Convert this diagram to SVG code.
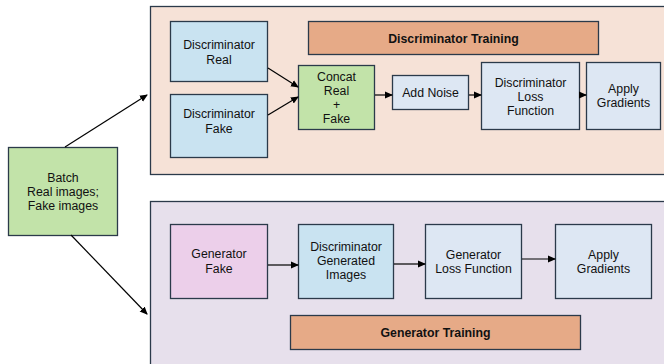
<svg xmlns="http://www.w3.org/2000/svg" width="664" height="364" viewBox="0 0 664 364">
<defs>
<marker id="ah" markerWidth="8" markerHeight="8" refX="7" refY="4" orient="auto" markerUnits="userSpaceOnUse">
<path d="M0,0.5 L8,4 L0,7.5 Z" fill="#000"/>
</marker>
<style>
rect{stroke:#2b3a4a;stroke-width:1.3}
.cont1{fill:#f6e2d7}
.cont2{fill:#e7e0ec}
.blue{fill:#c9e3f1}
.lblue{fill:#dde7f3}
.green{fill:#c2e3a9}
.orange{fill:#e6aa87}
.pink{fill:#eccfea}
text{font-family:"Liberation Sans",Arial,sans-serif;font-size:12.3px;fill:#111;text-anchor:middle}
.b{font-weight:bold;font-size:12.3px}
.c line{stroke:#000;stroke-width:1.2;marker-end:url(#ah)}
</style>
</defs>
<rect width="664" height="364" fill="#fff" style="stroke:none"/>
<g id="disc-training-group"><rect class="cont1" x="150.5" y="6.5" width="530" height="168"/></g>
<g id="gen-training-group"><rect class="cont2" x="150.5" y="201.5" width="530" height="180"/></g>
<g id="disc-training-label"><rect class="orange" x="308.5" y="21.5" width="290" height="33"/><text class="b" x="453.5" y="42.5">Discriminator Training</text></g>
<g id="disc-real"><rect class="blue" x="170.5" y="21.5" width="97" height="60"/><text x="219" y="48.5">Discriminator</text><text x="219" y="63.5">Real</text></g>
<g id="disc-fake"><rect class="blue" x="170.5" y="94.5" width="97" height="63"/><text x="219" y="117.5">Discriminator</text><text x="219" y="132.5">Fake</text></g>
<g id="concat"><rect class="green" x="298.5" y="65.5" width="76" height="64"/><text x="336.5" y="81">Concat</text><text x="336.5" y="95">Real</text><text x="336.5" y="109">+</text><text x="336.5" y="123">Fake</text></g>
<g id="add-noise"><rect class="lblue" x="392.5" y="75.5" width="76" height="34"/><text x="430.5" y="97">Add Noise</text></g>
<g id="disc-loss"><rect class="lblue" x="481.5" y="62.5" width="98" height="67"/><text x="530.5" y="87">Discriminator</text><text x="530.5" y="101">Loss</text><text x="530.5" y="114.5">Function</text></g>
<g id="disc-apply"><rect class="lblue" x="586.5" y="62.5" width="74" height="67"/><text x="623.5" y="93">Apply</text><text x="623.5" y="106.5">Gradients</text></g>
<g id="batch"><rect class="green" x="8.5" y="147.5" width="109" height="88"/><text x="63" y="182">Batch</text><text x="63" y="196">Real images;</text><text x="63" y="210">Fake images</text></g>
<g id="gen-fake"><rect class="pink" x="170.5" y="224.5" width="97" height="74"/><text x="219" y="258">Generator</text><text x="219" y="273">Fake</text></g>
<g id="disc-gen"><rect class="blue" x="298.5" y="224.5" width="95" height="74"/><text x="346" y="251">Discriminator</text><text x="346" y="265">Generated</text><text x="346" y="279">Images</text></g>
<g id="gen-loss"><rect class="lblue" x="425.5" y="224.5" width="96" height="74"/><text x="473.5" y="259">Generator</text><text x="473.5" y="273">Loss Function</text></g>
<g id="gen-apply"><rect class="lblue" x="555.5" y="224.5" width="96" height="74"/><text x="603.5" y="259">Apply</text><text x="603.5" y="273">Gradients</text></g>
<g id="gen-training-label"><rect class="orange" x="290.5" y="315.5" width="290" height="34"/><text class="b" x="435.5" y="336.5">Generator Training</text></g>
<g id="connectors" class="c">
<line x1="65" y1="147" x2="147" y2="95"/>
<line x1="71" y1="235" x2="147" y2="314"/>
<line x1="268" y1="68" x2="298" y2="87"/>
<line x1="268" y1="115" x2="298" y2="97"/>
<line x1="375" y1="95" x2="392" y2="95"/>
<line x1="469" y1="95" x2="481" y2="95"/>
<line x1="580" y1="95" x2="586" y2="95"/>
<line x1="268" y1="265" x2="298" y2="265"/>
<line x1="394" y1="264" x2="425" y2="264"/>
<line x1="522" y1="259" x2="555" y2="259"/>
</g>
</svg>
